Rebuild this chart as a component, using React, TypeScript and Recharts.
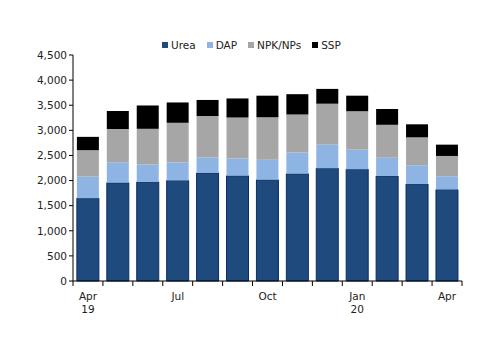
import React from 'react';
import { BarChart, Bar, XAxis, YAxis, Legend } from 'recharts';

const months = ['Apr', 'May', 'Jun', 'Jul', 'Aug', 'Sep', 'Oct', 'Nov', 'Dec', 'Jan', 'Feb', 'Mar', 'Apr'];
const years = ['19', '', '', '', '', '', '', '', '', '20', '', '', ''];
const shownLabels = [0, 3, 6, 9, 12];

const urea = [1650, 1955, 1970, 2000, 2150, 2095, 2015, 2135, 2245, 2225, 2090, 1930, 1820];
const dap = [430, 410, 350, 360, 310, 345, 400, 425, 470, 390, 365, 375, 265];
const npk = [525, 660, 710, 790, 825, 815, 845, 755, 815, 765, 655, 555, 405];
const ssp = [265, 360, 465, 405, 320, 380, 430, 405, 295, 310, 315, 260, 225];

const yTicks = [0, 500, 1000, 1500, 2000, 2500, 3000, 3500, 4000, 4500];

const data = months.map((m, i) => ({
  key: i,
  month: m,
  year: years[i],
  urea: urea[i],
  dap: dap[i],
  npk: npk[i],
  ssp: ssp[i],
}));

const FONT = '"DejaVu Sans", Verdana, sans-serif';
const BAND = 389 / 13;

const MonthTick = (props: any) => {
  const { x, y, payload, index } = props;
  const i = payload.value as number;
  const left = x - BAND / 2;
  return (
    <g>
      <line x1={left} x2={left} y1={y - 8} y2={y - 3} stroke="#000" />
      {index === months.length - 1 && (
        <line x1={left + BAND} x2={left + BAND} y1={y - 8} y2={y - 3} stroke="#000" />
      )}
      {shownLabels.includes(i) && (
        <text x={x} y={y + 11} textAnchor="middle" fontSize={10.5} fill="#222" fontFamily={FONT}>
          <tspan x={x} dy={0}>{months[i]}</tspan>
          {years[i] && <tspan x={x} dy={13}>{years[i]}</tspan>}
        </text>
      )}
    </g>
  );
};

const legendItems = [
  { name: 'Urea', color: '#1f4a7d' },
  { name: 'DAP', color: '#8db4e2' },
  { name: 'NPK/NPs', color: '#a6a6a6' },
  { name: 'SSP', color: '#000000' },
];

const LegendContent = () => (
  <div style={{ display: 'flex', fontFamily: FONT, fontSize: 10.5, color: '#222' }}>
    {legendItems.map((it) => (
      <div key={it.name} style={{ display: 'flex', alignItems: 'center', marginRight: 11 }}>
        <span style={{ width: 6, height: 6, background: it.color, marginRight: 3, display: 'inline-block' }} />
        {it.name}
      </div>
    ))}
  </div>
);

export default function App() {
  return (
    <div style={{ position: 'absolute', left: 0, top: 0, background: '#fff' }}>
      <BarChart
        width={500}
        height={353}
        data={data}
        margin={{ top: 43, right: 38, bottom: 0, left: 0 }}
        barCategoryGap="13%"
      >
        <XAxis
          dataKey="key"
          axisLine={{ stroke: '#000' }}
          tickLine={false}
          interval={0}
          tick={<MonthTick />}
          height={72}
        />
        <YAxis
          width={73}
          domain={[0, 4500]}
          ticks={yTicks}
          interval={0}
          axisLine={{ stroke: '#000' }}
          tickLine={{ stroke: '#000' }}
          tickSize={4}
          tick={{ fontSize: 10.5, fill: '#222', fontFamily: FONT }}
          tickFormatter={(v: number) => v.toLocaleString('en-US')}
        />
        <Legend
          verticalAlign="top"
          content={<LegendContent />}
          wrapperStyle={{ top: 39, left: 162, width: 'auto' }}
        />
        <Bar dataKey="urea" stackId="a" fill="#1f4a7d" stroke="#0b2c66" strokeWidth={1} isAnimationActive={false} />
        <Bar dataKey="dap" stackId="a" fill="#8db4e2" isAnimationActive={false} />
        <Bar dataKey="npk" stackId="a" fill="#a6a6a6" isAnimationActive={false} />
        <Bar dataKey="ssp" stackId="a" fill="#000000" isAnimationActive={false} />
      </BarChart>
    </div>
  );
}
